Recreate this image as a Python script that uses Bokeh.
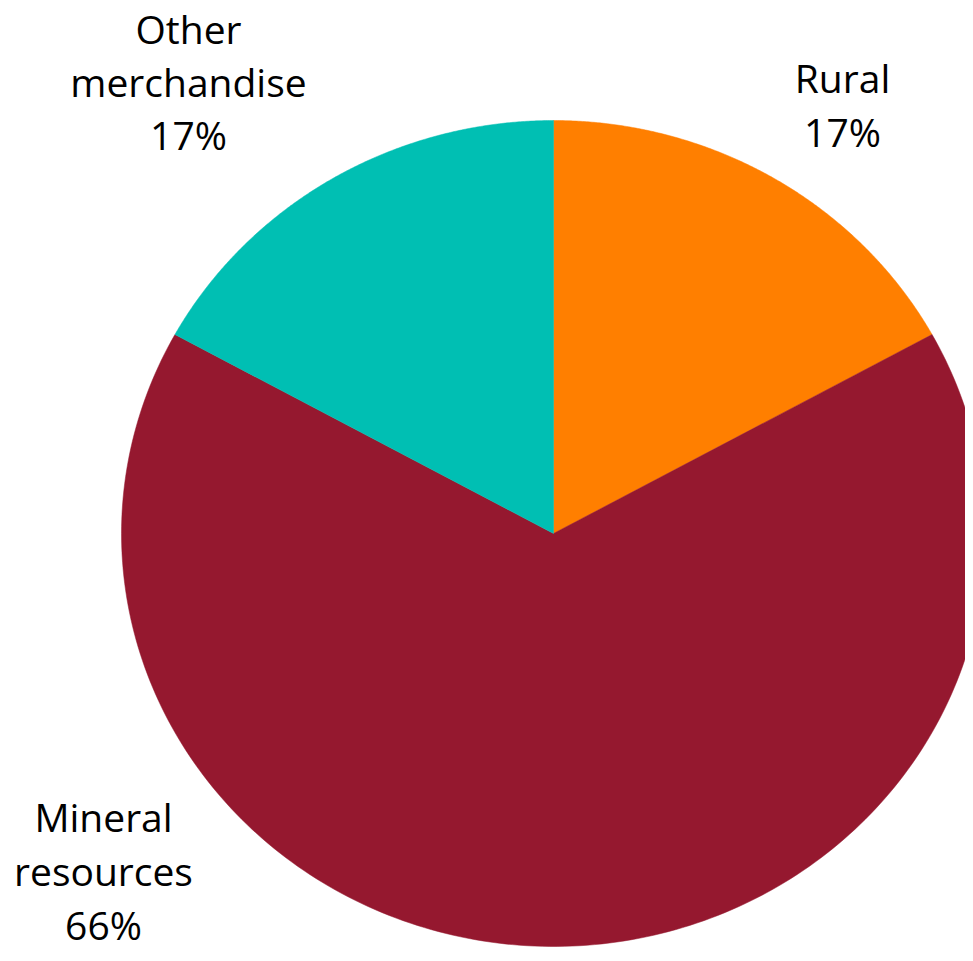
import numpy as np
from bokeh.plotting import figure
from bokeh.models import Range1d, ColumnDataSource
from bokeh.core.properties import value
from bokeh.embed import file_html
from bokeh.resources import INLINE

# ---- data ----
categories = ["Rural", "Mineral resources", "Other merchandise"]
shares = [17, 66, 17]
colors = ["#FF7F00", "#95182F", "#00BFB3"]
label_lines = [["Rural", "17%"], ["Mineral", "resources", "66%"], ["Other", "merchandise", "17%"]]

# ---- layout (pixel units, y downward) ----
W, H = 965, 953
cx, cy = 553, 533
rx, ry = 432, 413
label_anchor = [(842, 77, 54), (103, 816, 54), (188, 28, 53)]  # x centre, first line y, line gap
font = "Open Sans"
font_size = "39px"

p = figure(width=W, height=H, output_backend="svg", toolbar_location=None,
           x_range=Range1d(0, W), y_range=Range1d(H, 0), min_border=0)
p.axis.visible = False
p.grid.visible = False
p.outline_line_color = None
p.background_fill_color = "white"
p.border_fill_color = "white"

total = float(sum(shares))
fr = np.cumsum([0] + shares) / total
xs, ys = [], []
for i in range(len(shares)):
    t = np.linspace(fr[i], fr[i + 1], 240) * 2 * np.pi
    xs.append([cx] + list(cx + rx * np.sin(t)) + [cx])
    ys.append([cy] + list(cy - ry * np.cos(t)) + [cy])
src = ColumnDataSource(dict(xs=xs, ys=ys, color=colors, name=categories))
p.patches("xs", "ys", source=src, fill_color="color", line_color="color", line_width=0.5)

tx, ty, tt = [], [], []
for (ax, ay, gap), lines in zip(label_anchor, label_lines):
    for k, s in enumerate(lines):
        tx.append(ax)
        ty.append(ay + k * gap)
        tt.append(s)
p.text(x=tx, y=ty, text=tt, text_align="center", text_baseline="alphabetic",
       text_font=value(font), text_font_size=font_size, text_color="#000000")

open("out.html", "w").write(file_html(p, INLINE))
